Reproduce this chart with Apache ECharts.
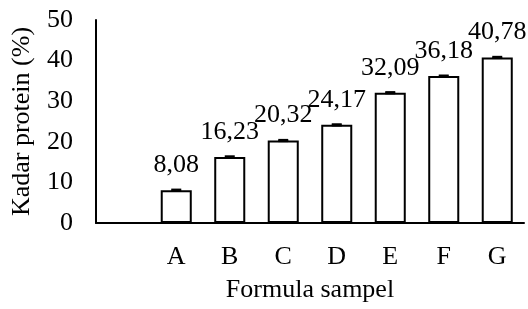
<!DOCTYPE html>
<html>
<head>
<meta charset="utf-8">
<script src="https://cdn.jsdelivr.net/npm/echarts@6/dist/echarts.min.js"></script>
<style>
  html, body { margin: 0; padding: 0; background: #fff; }
  #main { width: 528px; height: 309px; }
</style>
</head>
<body>
<div id="main"></div>
<script>
// data
const categories = ['', 'A', 'B', 'C', 'D', 'E', 'F', 'G'];
const protein = [null, 8.08, 16.23, 20.32, 24.17, 32.09, 36.18, 40.78];
const errors = [null, 0.15, 0.2, 0.15, 0.15, 0.15, 0.15, 0.15];
const yTicks = [0, 10, 20, 30, 40, 50];

const font = 'Liberation Serif';
const fs = 26;
const myChart = echarts.init(document.getElementById('main'));

const errData = protein.map((v, i) => v == null ? null : [i, v - errors[i], v + errors[i]]);

let option = {
  animation: false,
  textStyle: { fontFamily: font, color: '#000' },
  grid: { left: 96, right: 4, top: 20, bottom: 86, outerBoundsMode: 'none' },
  xAxis: {
    type: 'category',
    data: categories,
    axisLine: { lineStyle: { color: '#000', width: 2 } },
    axisTick: { show: false },
    axisLabel: { color: '#000', fontSize: fs, fontFamily: font, margin: 21 },
    name: 'Formula sampel',
    nameLocation: 'middle',
    nameGap: 54,
    nameTextStyle: { color: '#000', fontSize: fs, fontFamily: font }
  },
  yAxis: {
    type: 'value',
    min: yTicks[0],
    max: yTicks[yTicks.length - 1],
    interval: 10,
    splitLine: { show: false },
    axisLine: { show: true, lineStyle: { color: '#000', width: 2 } },
    axisTick: { show: false },
    axisLabel: { color: '#000', fontSize: fs, fontFamily: font, margin: 23 },
    name: 'Kadar protein (%)',
    nameLocation: 'middle',
    nameGap: 61,
    nameTextStyle: { color: '#000', fontSize: fs, fontFamily: font }
  },
  series: [
    {
      type: 'bar',
      data: protein,
      barCategoryGap: '42%',
      itemStyle: { color: '#fff', borderColor: '#000', borderWidth: 2 },
      label: {
        show: true,
        position: 'top',
        distance: 12,
        color: '#000',
        fontSize: fs,
        fontFamily: font,
        formatter: p => p.value.toFixed(2).replace('.', ',')
      }
    },
    {
      type: 'custom',
      data: errData.filter(d => d),
      z: 5,
      renderItem: (params, api) => {
        const lo = api.coord([api.value(0), api.value(1)]);
        const hi = api.coord([api.value(0), api.value(2)]);
        const hw = 5;
        const style = { stroke: '#000', lineWidth: 2 };
        return {
          type: 'group',
          children: [
            { type: 'line', shape: { x1: lo[0], y1: lo[1], x2: hi[0], y2: hi[1] }, style },
            { type: 'line', shape: { x1: hi[0] - hw, y1: hi[1], x2: hi[0] + hw, y2: hi[1] }, style },
            { type: 'line', shape: { x1: lo[0] - hw, y1: lo[1], x2: lo[0] + hw, y2: lo[1] }, style }
          ]
        };
      }
    }
  ]
};

option && myChart.setOption(option);
</script>
</body>
</html>
